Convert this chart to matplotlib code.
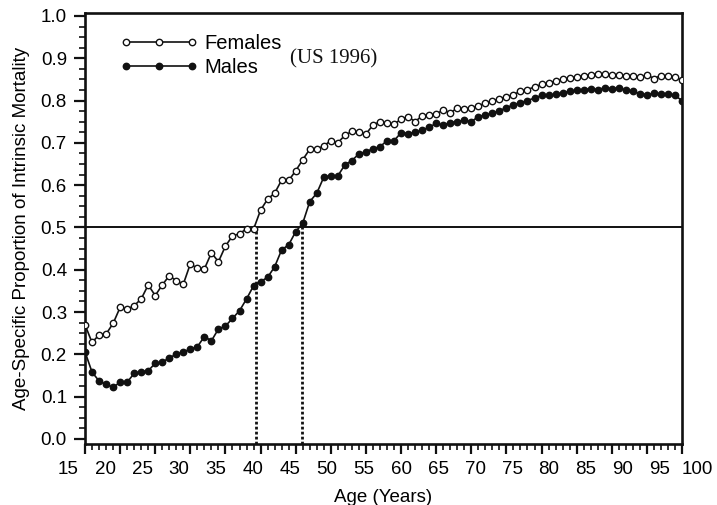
import numpy as np
import matplotlib
matplotlib.use("Agg")
import matplotlib.pyplot as plt
from matplotlib.ticker import MultipleLocator

ages = list(range(15, 101))

females = [0.270, 0.228, 0.246, 0.248, 0.273, 0.311, 0.307, 0.315, 0.331, 0.364,
           0.339, 0.364, 0.386, 0.374, 0.366, 0.414, 0.403, 0.402, 0.440, 0.419,
           0.456, 0.480, 0.485, 0.497, 0.496, 0.541, 0.567, 0.581, 0.612, 0.611,
           0.634, 0.660, 0.685, 0.685, 0.693, 0.705, 0.700, 0.718, 0.727, 0.725,
           0.721, 0.742, 0.750, 0.746, 0.744, 0.756, 0.762, 0.750, 0.764, 0.766,
           0.768, 0.778, 0.771, 0.782, 0.780, 0.782, 0.787, 0.794, 0.799, 0.804,
           0.809, 0.814, 0.822, 0.826, 0.832, 0.838, 0.842, 0.846, 0.850, 0.853,
           0.856, 0.858, 0.861, 0.863, 0.862, 0.860, 0.860, 0.859, 0.858, 0.855,
           0.861, 0.852, 0.859, 0.857, 0.855, 0.849]

males = [0.206, 0.158, 0.137, 0.129, 0.122, 0.134, 0.134, 0.155, 0.159, 0.161,
         0.179, 0.181, 0.192, 0.200, 0.206, 0.212, 0.218, 0.242, 0.232, 0.260,
         0.267, 0.285, 0.303, 0.331, 0.362, 0.372, 0.382, 0.407, 0.447, 0.459,
         0.490, 0.510, 0.561, 0.581, 0.619, 0.622, 0.622, 0.648, 0.658, 0.674,
         0.679, 0.686, 0.691, 0.705, 0.705, 0.724, 0.722, 0.725, 0.730, 0.737,
         0.746, 0.742, 0.748, 0.750, 0.754, 0.750, 0.762, 0.766, 0.770, 0.776,
         0.783, 0.790, 0.795, 0.800, 0.806, 0.812, 0.812, 0.815, 0.818, 0.822,
         0.824, 0.826, 0.828, 0.826, 0.830, 0.828, 0.830, 0.825, 0.822, 0.816,
         0.814, 0.817, 0.816, 0.816, 0.812, 0.800]

crossing_ages = [39.35, 45.9]
half_level = 0.5
x_tick_values = list(range(15, 101, 5))
x_tick_labels = [str(v) for v in x_tick_values]
y_tick_values = [round(0.1 * i, 1) for i in range(11)]
y_tick_labels = [f'{v:.1f}' for v in y_tick_values]

plt.rcParams['font.family'] = ['Liberation Sans', 'DejaVu Sans']

W, H = 717, 505
fig = plt.figure(figsize=(W / 100, H / 100), dpi=100)
ax_left, ax_right, ax_top, ax_bottom = 85, 682, 13, 444
ax = fig.add_axes([ax_left / W, 1 - ax_bottom / H, (ax_right - ax_left) / W,
                   (ax_bottom - ax_top) / H])

ink = '#111111'
ax.plot(ages, females, '-o', color=ink, lw=1.2, ms=4.6, mfc='white', mec=ink, mew=1.0,
        label='Females', zorder=3)
ax.plot(ages, males, '-o', color=ink, lw=1.2, ms=4.6, mfc=ink, mec=ink, mew=1.0,
        label='Males', zorder=3)

ax.axhline(half_level, color=ink, lw=1.4, zorder=2)
ymin, ymax = -0.012, 1.007
ax.vlines(crossing_ages, ymin, half_level, colors=ink, linestyles=(0, (1, 0.8)), lw=2.0,
          zorder=2)

ax.set_xlim(15, 100)
ax.set_ylim(ymin, ymax)

ax.xaxis.set_major_locator(MultipleLocator(5))
ax.xaxis.set_minor_locator(MultipleLocator(1))
ax.yaxis.set_minor_locator(MultipleLocator(0.025))
ax.set_yticks(y_tick_values)
ax.set_yticklabels(y_tick_labels)
ax.tick_params(axis='x', which='major', length=7, width=1.6, labelbottom=False, color=ink)
ax.tick_params(axis='x', which='minor', length=4, width=1.2, color=ink)
ax.tick_params(axis='y', which='major', length=8, width=1.6, labelsize=13.5, pad=5, color=ink)
ax.tick_params(axis='y', which='minor', length=4, width=1.2, color=ink)
for s in ax.spines.values():
    s.set_linewidth(1.9)
    s.set_color(ink)

# In the reference the x tick labels are spaced a little wider than the tick marks;
# reproduce this with a label-only axis whose range spans the label positions.
lab_left, lab_right = 68.3, 697.0
lax = fig.add_axes([lab_left / W, 1 - ax_bottom / H, (lab_right - lab_left) / W, 0.001])
lax.patch.set_visible(False)
for s in lax.spines.values():
    s.set_visible(False)
lax.set_xlim(15, 100)
lax.set_xticks(x_tick_values)
lax.set_xticklabels(x_tick_labels)
lax.set_yticks([])
lax.tick_params(axis='x', length=0, labelsize=13.5, pad=12)

ax.set_xlabel('Age (Years)', fontsize=13.5, labelpad=25)
ax.set_ylabel('Age-Specific Proportion of Intrinsic Mortality', fontsize=13.5, labelpad=8)

leg = ax.legend(loc='upper left', bbox_to_anchor=(0.058, 0.952), frameon=False,
                numpoints=3, handlelength=3.9, handletextpad=0.3, labelspacing=0.25,
                borderpad=0, borderaxespad=0, prop={'size': 14.5})

ax.text(0.344, 0.893, '(US 1996)', transform=ax.transAxes, fontsize=15,
        family=['Liberation Serif', 'DejaVu Serif'], va='center', ha='left', color=ink)

fig.savefig('out.png', dpi=100)
